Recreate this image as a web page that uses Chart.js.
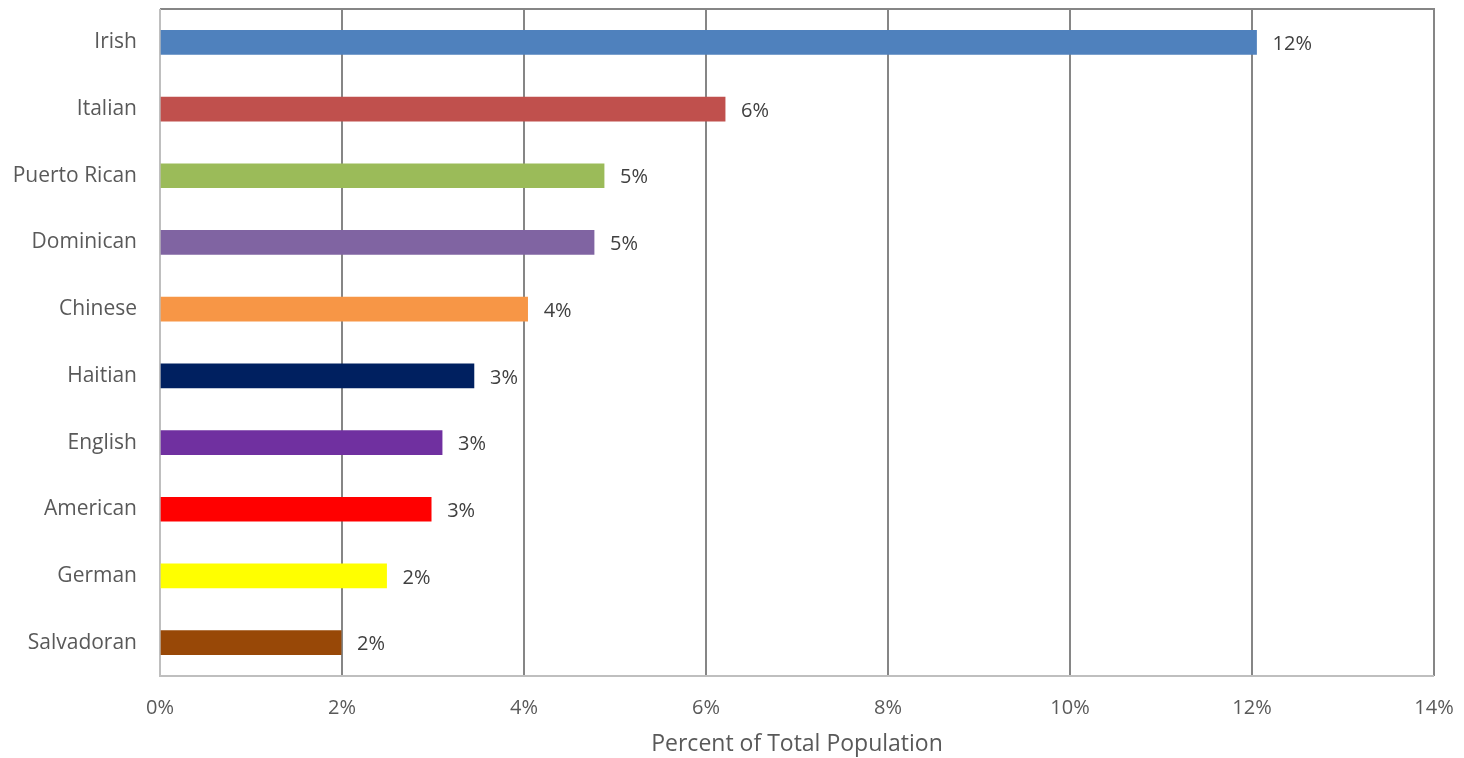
<!DOCTYPE html>
<html><head><meta charset="utf-8">
<script src="https://cdn.jsdelivr.net/npm/chart.js@4/dist/chart.umd.min.js"></script>
<style>html,body{margin:0;padding:0;background:#fff}#wrap{width:1464px;height:758px}</style>
</head><body><div id="wrap"><canvas id="c" width="1464" height="758"></canvas></div>
<script>
const categories = ["Irish","Italian","Puerto Rican","Dominican","Chinese","Haitian","English","American","German","Salvadoran"];
const values = [12.05, 6.21, 4.88, 4.77, 4.04, 3.45, 3.10, 2.98, 2.49, 1.99];
const labels = ["12%","6%","5%","5%","4%","3%","3%","3%","2%","2%"];
const colors = ["#4F81BD","#C0504D","#9BBB59","#8064A2","#F79646","#002060","#7030A0","#FF0000","#FFFF00","#984807"];
const axisTitle = "Percent of Total Population";

const valueLabels = {
  id:'valueLabels',
  afterDatasetsDraw(chart){
    const ctx = chart.ctx, meta = chart.getDatasetMeta(0);
    ctx.save();
    ctx.font = '20px "Open Sans"';
    ctx.fillStyle = '#404040';
    ctx.textBaseline = 'middle';
    ctx.textAlign = 'left';
    meta.data.forEach((bar,i)=>{ ctx.fillText(labels[i], bar.x + 16, bar.y + 2); });
    ctx.restore();
  }
};
const frame = {
  id:'frame',
  beforeDatasetsDraw(chart){
    const {ctx, chartArea:a} = chart;
    ctx.save();
    ctx.strokeStyle = '#868686'; ctx.lineWidth = 2;
    ctx.beginPath(); ctx.moveTo(a.left, a.top); ctx.lineTo(a.right, a.top); ctx.lineTo(a.right, a.bottom); ctx.stroke();
    ctx.strokeStyle = '#bfbfbf';
    ctx.beginPath(); ctx.moveTo(a.left, a.top); ctx.lineTo(a.left, a.bottom); ctx.lineTo(a.right, a.bottom); ctx.stroke();
    ctx.restore();
  }
};

new Chart(document.getElementById('c'), {
  type:'bar',
  data:{ labels:categories, datasets:[{ data:values, backgroundColor:colors, barThickness:24 }] },
  options:{
    indexAxis:'y', responsive:false, animation:false,
    layout:{ padding:{ top:9, right:30, left:0, bottom:0 } },
    plugins:{ legend:{display:false}, tooltip:{enabled:false} },
    scales:{
      x:{ min:0, max:14, ticks:{ stepSize:2, callback:v=>v+'%', color:'#595959', font:{family:'"Open Sans"', size:20}, padding:20 },
          grid:{ color:'#868686', lineWidth:2, drawTicks:false }, border:{ display:false },
          title:{ display:true, text:axisTitle, color:'#595959', font:{family:'"Open Sans"', size:23}, padding:{top:6, bottom:0} },
          afterFit(s){ s.height = 82; s.paddingLeft = 0; s.paddingRight = 0; } },
      y:{ ticks:{ color:'#595959', font:{family:'"Open Sans"', size:21}, padding:23 },
          grid:{ display:false, drawTicks:false }, border:{ display:false },
          afterFit(s){ s.width = 160; s.paddingTop = 0; s.paddingBottom = 0; } }
    }
  },
  plugins:[frame, valueLabels]
});
</script></body></html>
